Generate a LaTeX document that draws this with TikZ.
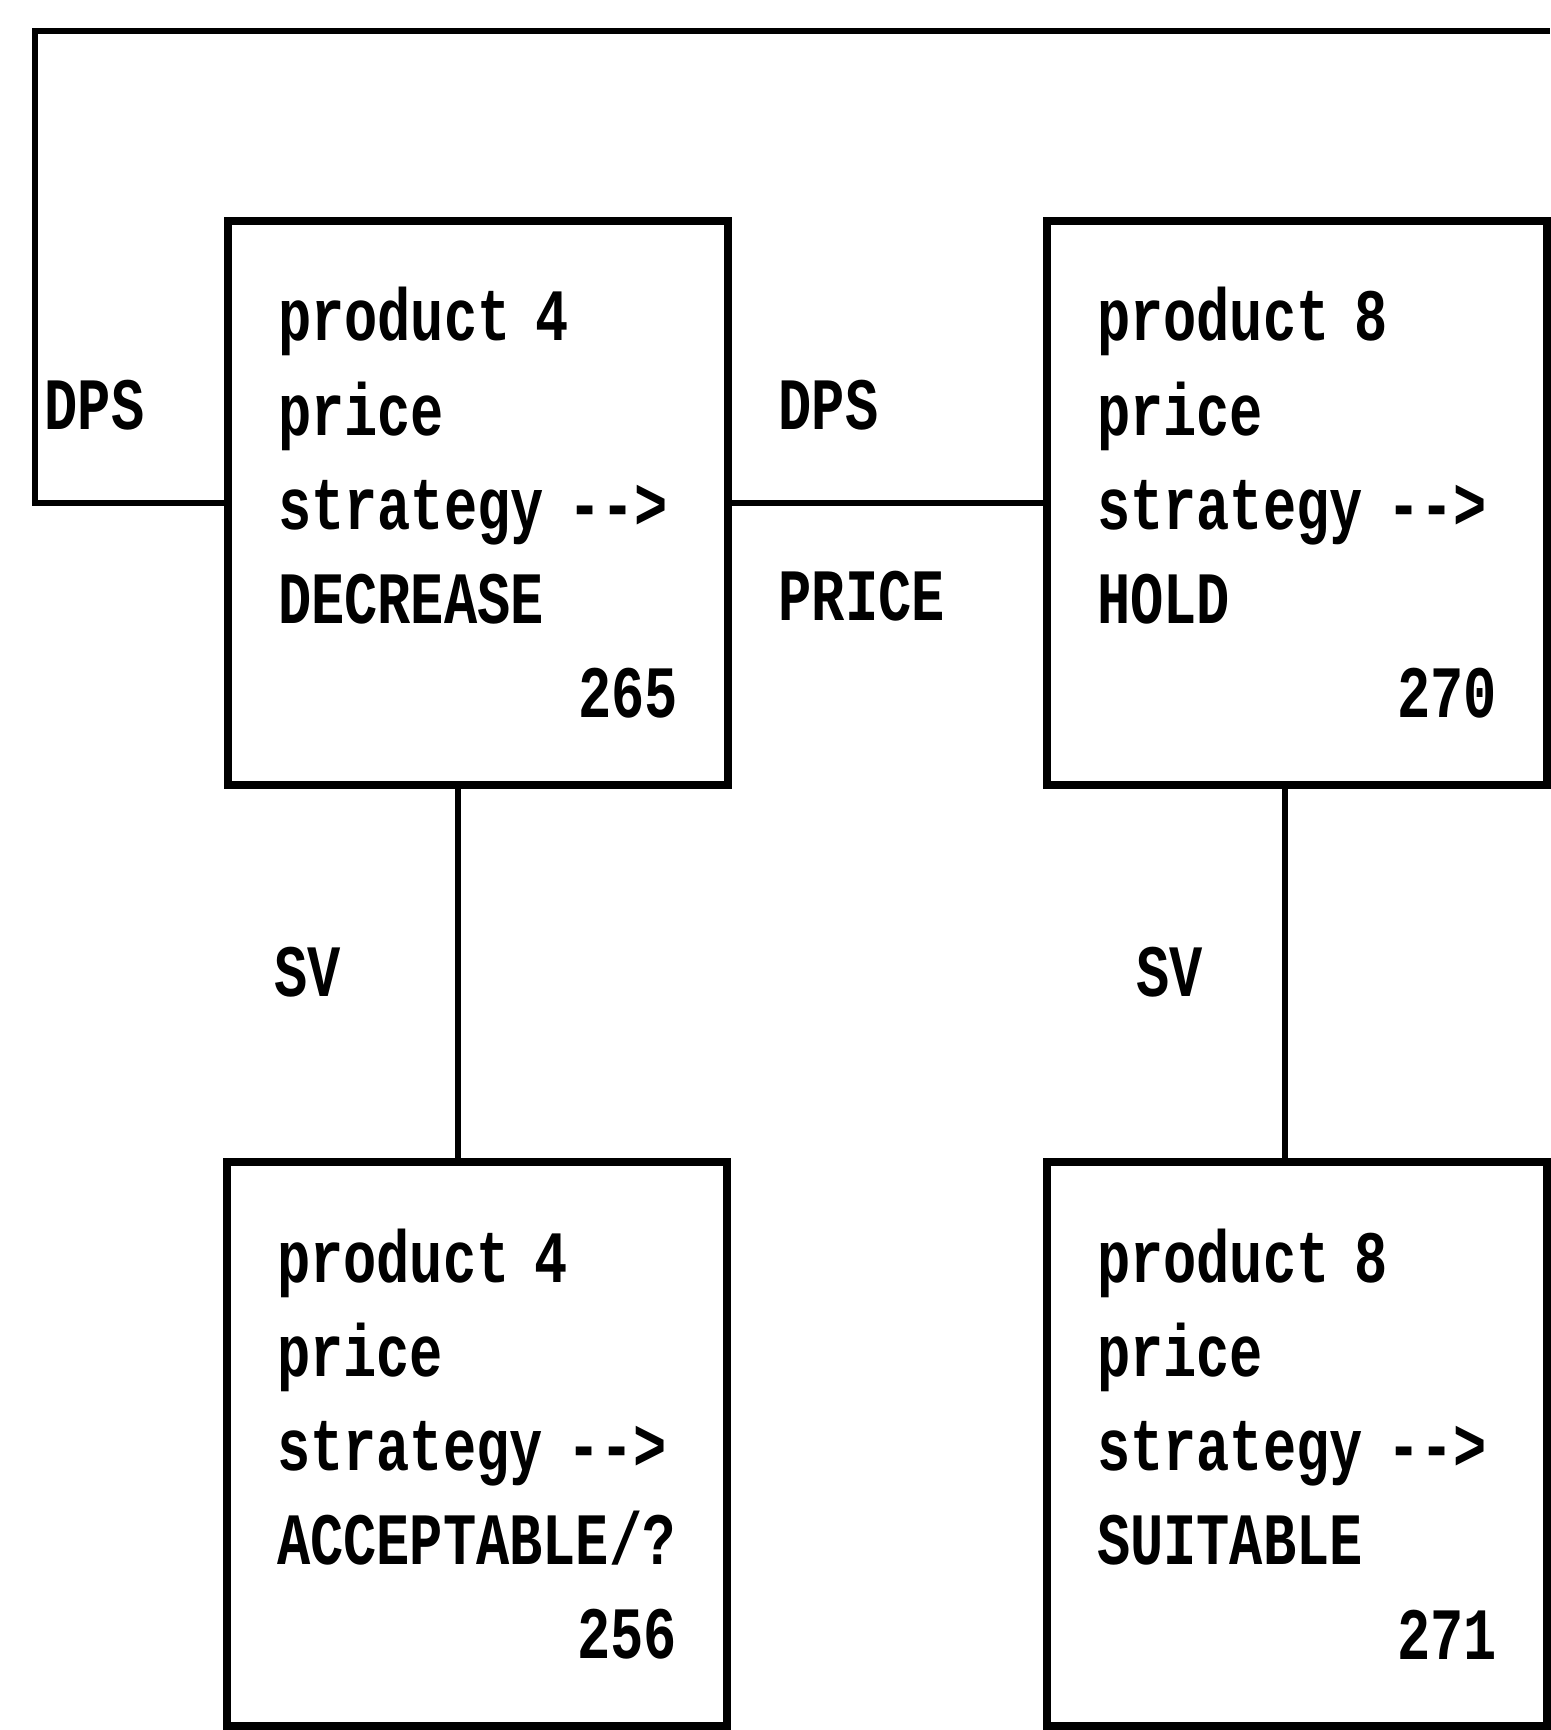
\documentclass[tikz,border=0pt]{standalone}
\usepackage{fontspec}
\usepackage{tikz}
\usetikzlibrary{positioning, calc}
\newfontfamily\printfont[FakeStretch=0.75]{Liberation Mono}
\newcommand{\boxnum}[1]{\mbox{}\hskip 0pt plus 1filll #1}
\tikzset{
  prodbox/.style={
    draw, rectangle, line width=0.08cm,
    minimum width=5.0cm, minimum height=5.64cm,
    text width=4.0cm, align=left,
    font=\printfont\bfseries\fontsize{21}{26.8}\selectfont
  },
  lbl/.style={font=\printfont\bfseries\fontsize{21}{26.8}\selectfont, inner sep=0pt},
  link/.style={draw, line width=0.065cm},
}

\begin{document}
\begin{tikzpicture}
  \useasboundingbox (0,0) rectangle (15.5,-17.3);

  \node[prodbox] (p4) at (4.78,-5.03)   {product 4\\price\\strategy -{}->\\DECREASE\\\boxnum{265}};
  \node[prodbox] (p8) at (12.97,-5.03)  {product 8\\price\\strategy -{}->\\HOLD\\\boxnum{270}};
  \node[prodbox] (a4) at (4.77,-14.44)  {product 4\\price\\strategy -{}->\\ACCEPTABLE/?\\\boxnum{256}};
  \node[prodbox] (s8) at (12.97,-14.44) {product 8\\price\\strategy -{}->\\SUITABLE\\\boxnum{271}};

  \coordinate (loopL) at (0.35,-0.31);
  \coordinate (loopR) at (15.5,-0.31);

  % DPS loop over the top
  \draw[link] (p4.west) -| (loopL) -- (loopR);
  \node[lbl, anchor=base west] (dpsL) at (0.44,-4.30) {DPS};

  % DPS / PRICE between the two strategies
  \draw[link] (p4.east) -- (p8.west);
  \node[lbl, anchor=base west] (dpsM)  at (7.78,-4.30) {DPS};
  \node[lbl, anchor=base west] (price) at (7.78,-6.21) {PRICE};

  % SV links down
  \draw[link] ([xshift=-0.2cm]p4.south) -- ([xshift=-0.2cm]p4.south |- a4.north);
  \draw[link] ([xshift=-0.12cm]p8.south) -- ([xshift=-0.12cm]p8.south |- s8.north);
  \node[lbl, anchor=base west] (svL) at (2.74,-9.96)  {SV};
  \node[lbl, anchor=base west] (svR) at (11.36,-9.96) {SV};
\end{tikzpicture}
\end{document}
